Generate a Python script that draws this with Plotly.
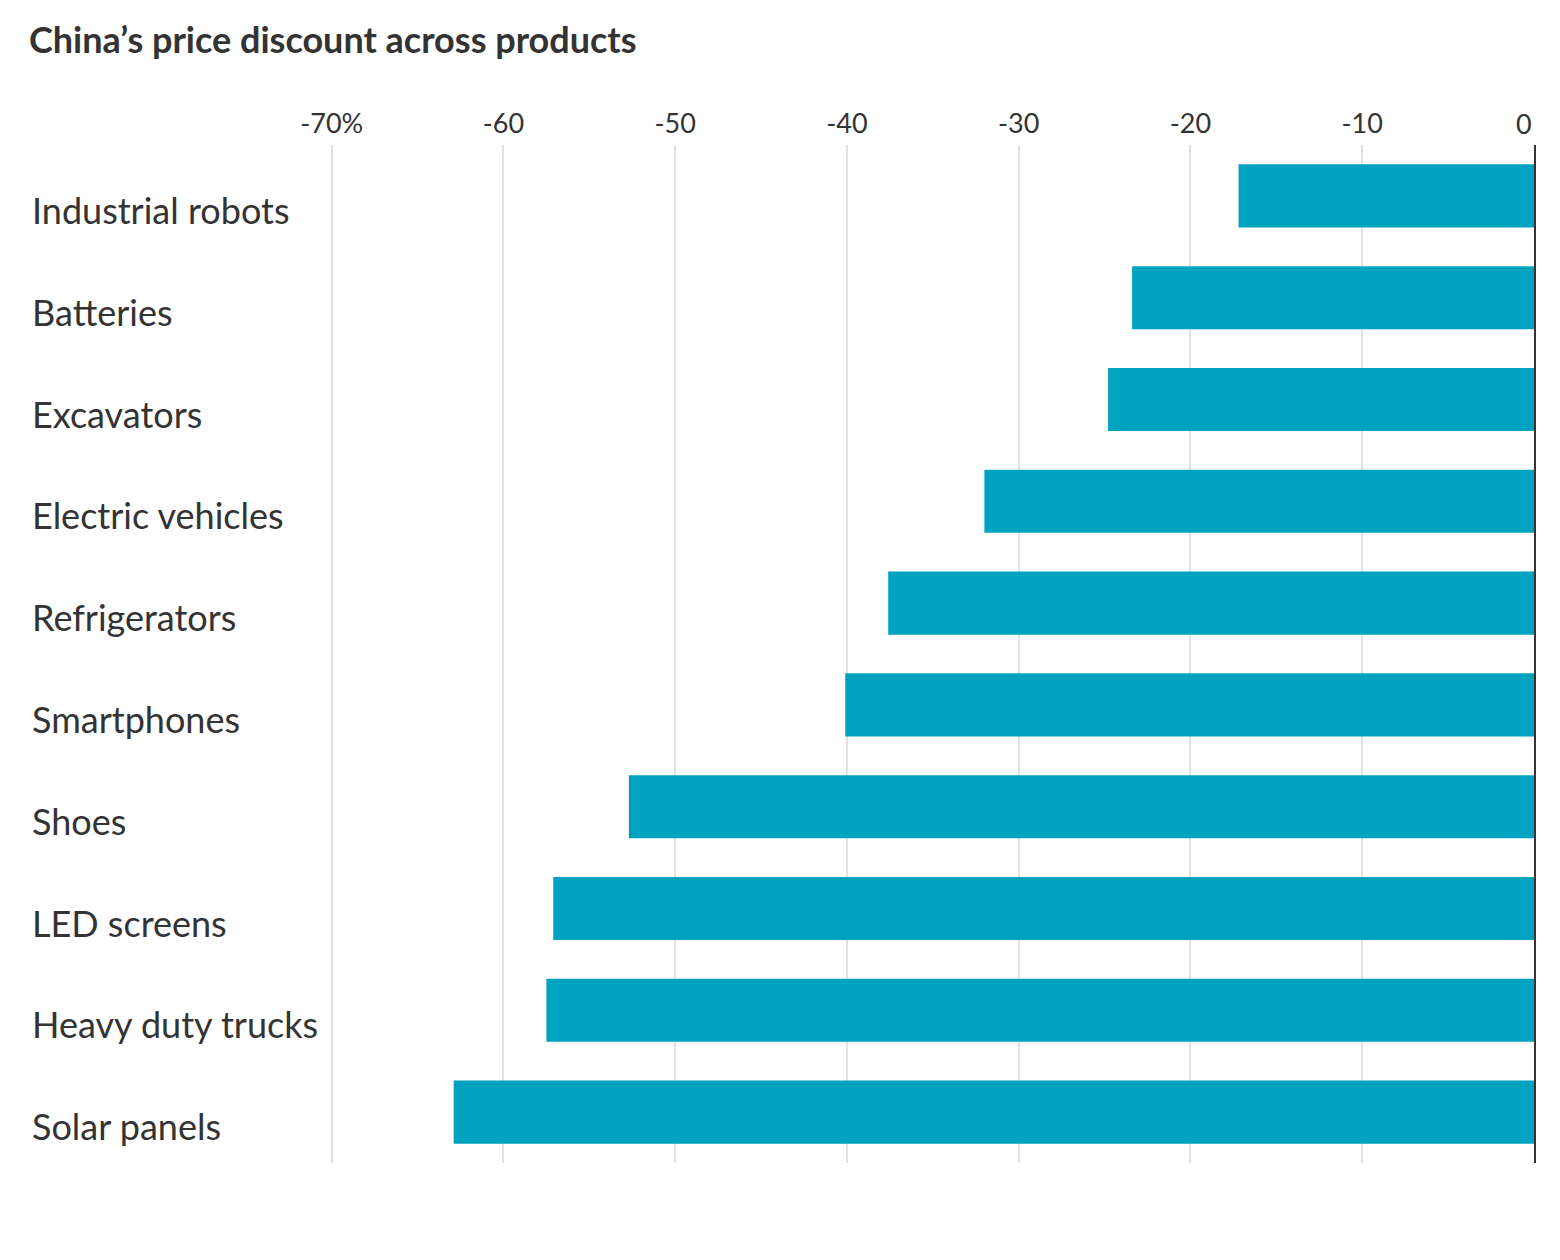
import plotly.graph_objects as go

categories = ["Industrial robots", "Batteries", "Excavators", "Electric vehicles",
              "Refrigerators", "Smartphones", "Shoes", "LED screens",
              "Heavy duty trucks", "Solar panels"]
values = [-17.2, -23.4, -24.8, -32.0, -37.6, -40.1, -52.7, -57.1, -57.5, -62.9]
tick_vals = [-70, -60, -50, -40, -30, -20, -10]
tick_text = ["-70%", "-60", "-50", "-40", "-30", "-20", "-10"]
zero_label = "0"
title_text = "China’s price discount across products"

# page body adds an 8px offset
OFF = 8
W, H = 1560 - 2 * OFF, 1260 - 2 * OFF
ML = 330 - OFF
MT = 145 - OFF
MR = W - (1534 - OFF)
MB = H - (1163 - OFF)
plot_w = W - ML - MR

TXT = "#333333"
TICK_SIZE = 27

fig = go.Figure()
fig.add_trace(go.Bar(
    x=values, y=categories, orientation="h",
    marker=dict(color="#00A3BF", line=dict(width=0)),
    width=0.62, hoverinfo="x+y",
))

annotations = []
for c in categories:
    annotations.append(dict(
        x=(30 - OFF - ML) / plot_w, xref="paper", xanchor="left",
        y=c, yref="y", yanchor="middle", yshift=-14,
        text=c, showarrow=False,
        font=dict(family="Lato", size=36, color=TXT),
    ))
# "0" label set flush to the left of the zero line
annotations.append(dict(
    x=0, xref="x", xanchor="right",
    y=1, yref="paper", yanchor="bottom", yshift=3,
    text=zero_label, showarrow=False,
    font=dict(family="Lato", size=TICK_SIZE, color=TXT),
))

fig.update_layout(
    width=W, height=H,
    margin=dict(l=ML, r=MR, t=MT, b=MB),
    paper_bgcolor="white", plot_bgcolor="white",
    showlegend=False,
    title=dict(
        text="<b>" + title_text + "</b>",
        x=(29 - OFF) / W, xref="container", xanchor="left",
        y=1 - (40 - OFF) / H, yref="container", yanchor="middle",
        font=dict(family="Lato", size=36, color=TXT),
    ),
    xaxis=dict(
        range=[-70.1, 0], side="top",
        tickvals=tick_vals, ticktext=tick_text,
        showgrid=True, gridcolor="#e2e2e2", gridwidth=2,
        zeroline=False, showline=False, ticks="",
        tickfont=dict(family="Lato", size=TICK_SIZE, color=TXT),
        ticklabelstandoff=6,
        fixedrange=True,
    ),
    yaxis=dict(
        categoryorder="array", categoryarray=categories,
        autorange="reversed",
        side="right", showline=True, linecolor="#333333", linewidth=2,
        showticklabels=False, ticks="", showgrid=False, zeroline=False,
        fixedrange=True,
    ),
    annotations=annotations,
)

fig.write_html("out.html")
